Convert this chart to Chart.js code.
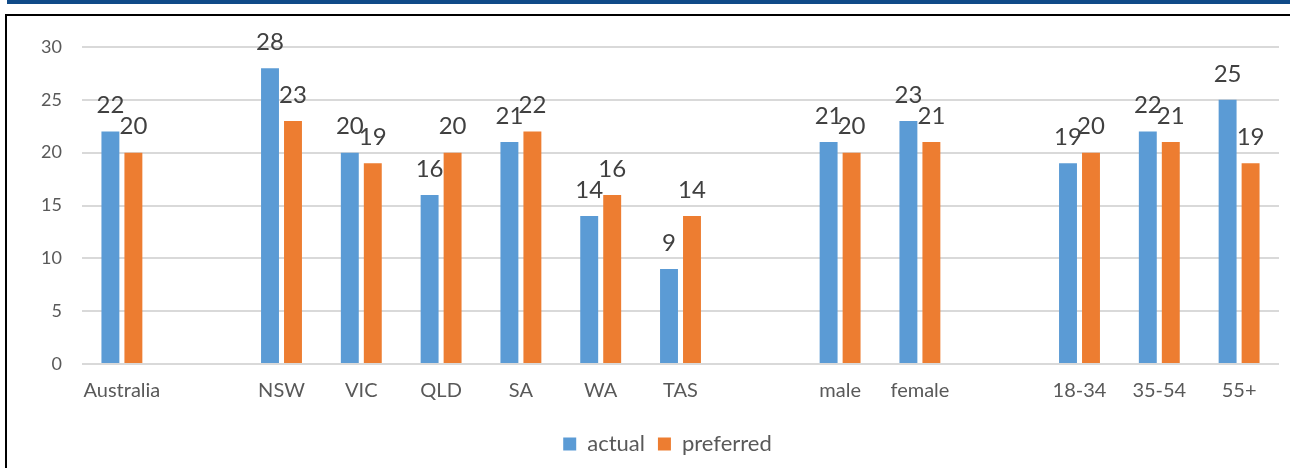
<!DOCTYPE html>
<html>
<head>
<meta charset="utf-8">
<script src="https://cdn.jsdelivr.net/npm/chart.js@4.4.1/dist/chart.umd.min.js"></script>
<style>
  html, body { margin: 0; padding: 0; background: #fff; }
  body { width: 1290px; height: 468px; overflow: hidden; position: relative; font-family: Lato, sans-serif; }
  #band { position: absolute; left: 7px; top: 0; width: 1283px; height: 4px; background: #104a88; }
  #frame { position: absolute; left: 5px; top: 14px; width: 1300px; height: 480px;
           border-left: 2px solid #000; border-top: 2px solid #000; box-sizing: border-box; pointer-events: none; }
  #wrap { position: absolute; left: 0; top: 0; width: 1290px; height: 468px; }
</style>
</head>
<body>
<div id="band"></div>
<div id="wrap"><canvas id="chart" width="1290" height="468"></canvas></div>
<div id="frame"></div>
<script>
// Groups: overall, states, gender, age bands (blank slots separate the groups)
const categories = ['Australia', '', 'NSW', 'VIC', 'QLD', 'SA', 'WA', 'TAS', '', 'male', 'female', '', '18-34', '35-54', '55+'];
const actual     = [22, null, 28, 20, 16, 21, 14, 9, null, 21, 23, null, 19, 22, 25];
const preferred  = [20, null, 23, 19, 20, 22, 16, 14, null, 20, 21, null, 20, 21, 19];
const yTicks     = [0, 5, 10, 15, 20, 25, 30];

const BLUE = '#5b9bd5';
const ORANGE = '#ed7d31';
const FONT = 'Lato, sans-serif';

// Writes each bar's value above it
const valueLabels = {
  id: 'valueLabels',
  afterDatasetsDraw(chart) {
    const ctx = chart.ctx;
    ctx.save();
    ctx.font = '24px ' + FONT;
    ctx.fillStyle = '#404040';
    ctx.textAlign = 'center';
    ctx.textBaseline = 'middle';
    chart.data.datasets.forEach((ds, i) => {
      const meta = chart.getDatasetMeta(i);
      meta.data.forEach((bar, j) => {
        const v = ds.data[j];
        if (v === null || v === undefined) return;
        ctx.fillText(String(v), bar.x, bar.y - 26);
      });
    });
    ctx.restore();
  }
};

// Nudges the legend row to sit under the middle of the plot
const legendShift = {
  id: 'legendShift',
  afterLayout(chart) {
    if (chart.legend) { chart.legend.left += 28; chart.legend.right += 28; }
  }
};

new Chart(document.getElementById('chart'), {
  type: 'bar',
  data: {
    labels: categories,
    datasets: [
      { label: 'actual', data: actual, backgroundColor: BLUE,
        categoryPercentage: 0.576, barPercentage: 0.78 },
      { label: 'preferred', data: preferred, backgroundColor: ORANGE,
        categoryPercentage: 0.576, barPercentage: 0.78 }
    ]
  },
  options: {
    responsive: false,
    animation: false,
    layout: { padding: { left: 0, right: 11, top: 47, bottom: 3 } },
    plugins: {
      tooltip: { enabled: false },
      legend: {
        position: 'bottom',
        labels: {
          boxWidth: 13, boxHeight: 13, padding: 13,
          color: '#595959',
          font: { family: FONT, size: 22 }
        }
      }
    },
    scales: {
      x: {
        grid: { display: false, drawTicks: false },
        border: { display: false },
        ticks: { color: '#595959', font: { family: FONT, size: 20 }, padding: 15, maxRotation: 0, autoSkip: false },
        afterFit(scale) { scale.height = 56; }
      },
      y: {
        min: 0, max: 30,
        afterBuildTicks(scale) { scale.ticks = yTicks.map(v => ({ value: v })); },
        grid: { color: '#d9d9d9', lineWidth: 2, drawTicks: false },
        border: { display: false },
        ticks: { color: '#595959', font: { family: FONT, size: 18 }, padding: 20 },
        afterFit(scale) { scale.width = 82; }
      }
    }
  },
  plugins: [valueLabels, legendShift]
});
</script>
</body>
</html>
